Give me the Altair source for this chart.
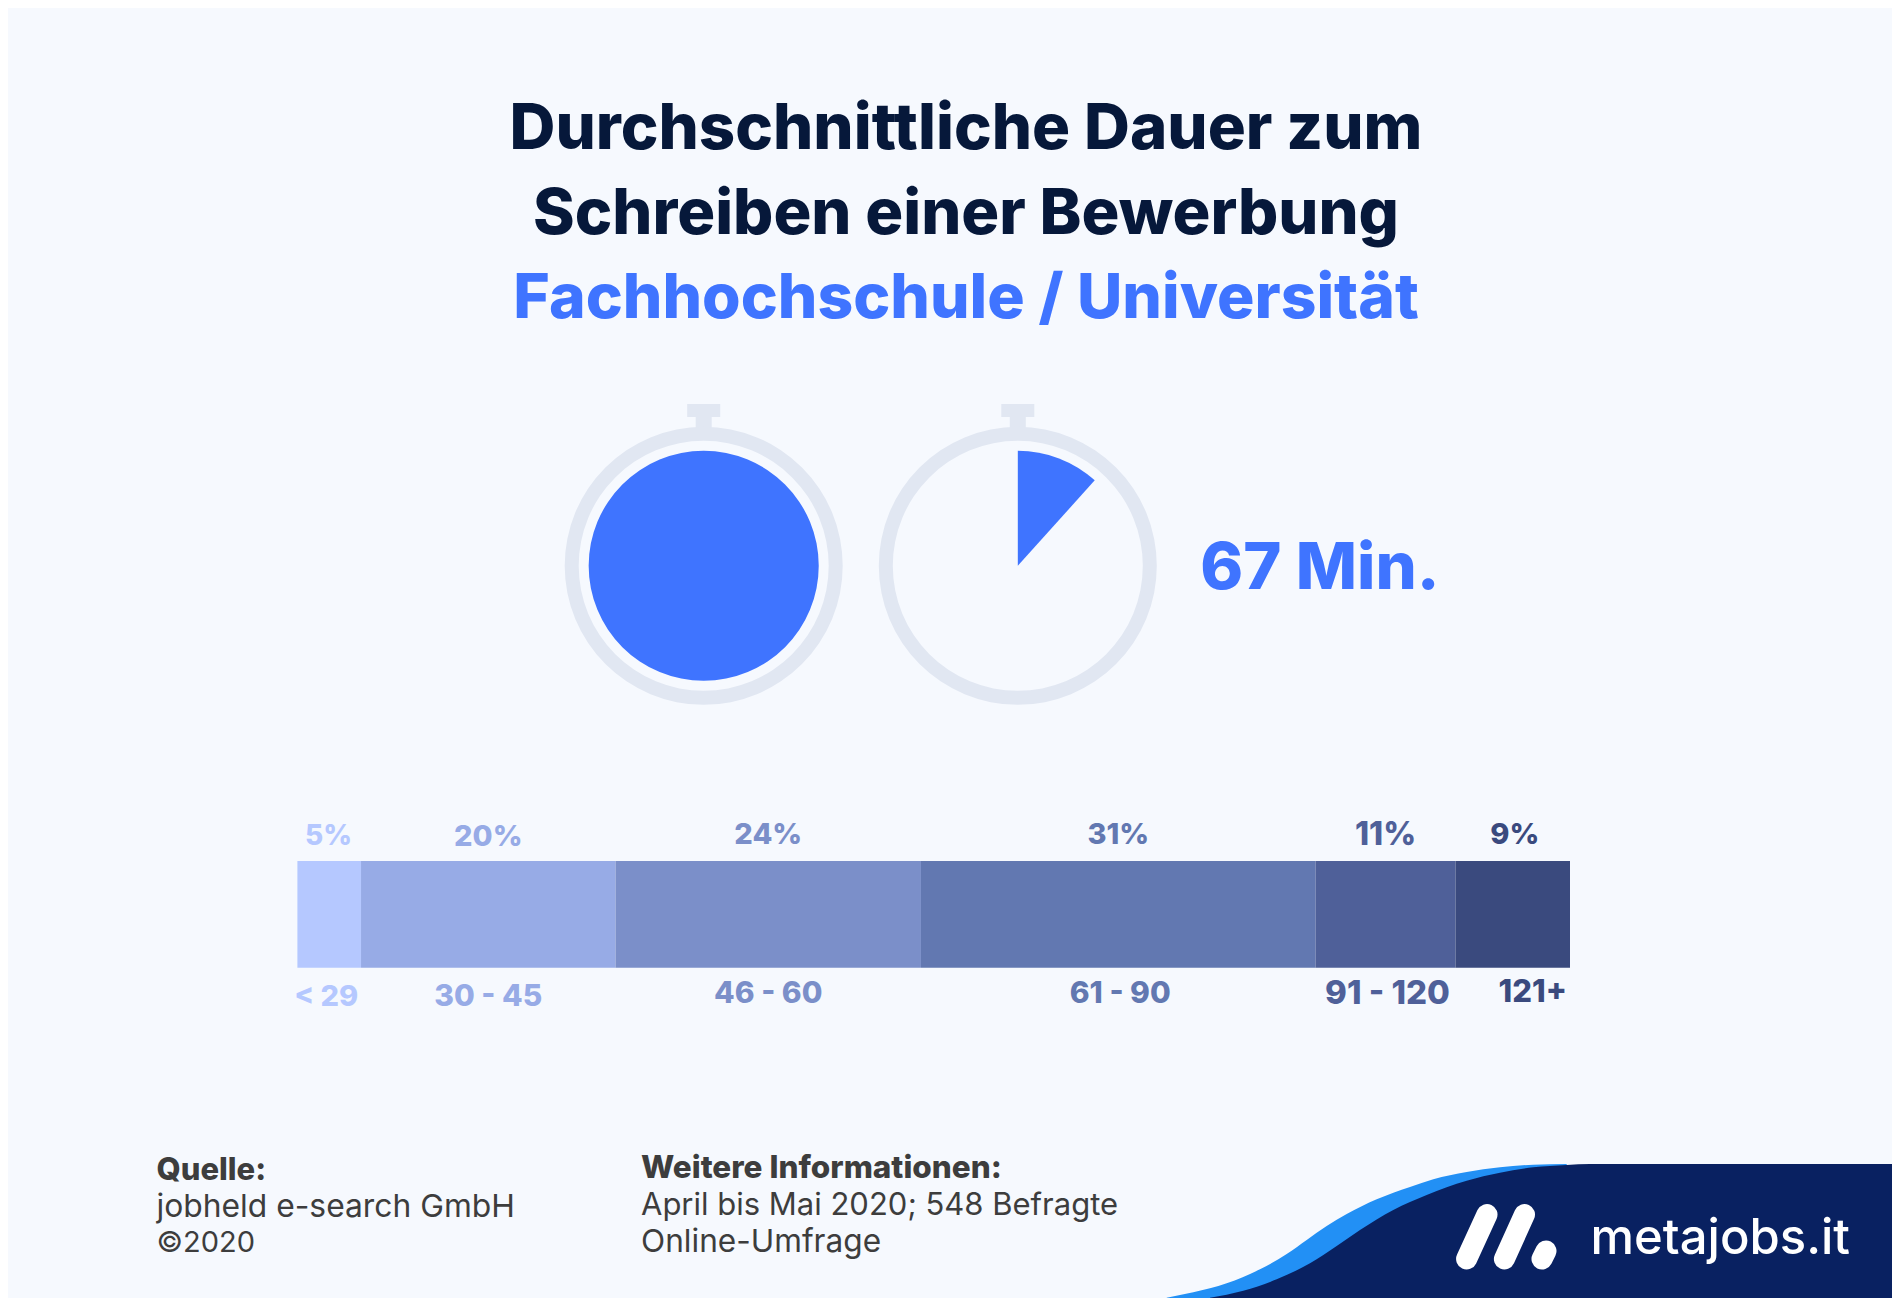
import altair as alt
import pandas as pd
import math

# ---- chart data ----
ranges = ["< 29", "30 - 45", "46 - 60", "61 - 90", "91 - 120", "121+"]
shares = [5, 20, 24, 31, 11, 9]
share_labels = ["5%", "20%", "24%", "31%", "11%", "9%"]
colors = ["#B5C8FF", "#97ABE6", "#7B8FC9", "#6278B1", "#4F6099", "#3A4A7E"]
watch_minutes = [60, 7]
watch_names = ["erste Stunde", "weitere Minuten"]

# ---- texts ----
title_lines = ["Durchschnittliche Dauer zum", "Schreiben einer Bewerbung"]
subtitle = "Fachhochschule / Universität"
avg_label = "67 Min."

BG = "#F6F9FE"; BLUE = "#3F74FF"; RING = "#E1E7F2"; NAVY = "#092161"; SKY = "#2290F5"
TITLE = "#06183A"; GREY = "#3D3D3D"
FONT = "Inter"

W, H = 1884, 1290
page_x = alt.Scale(domain=[8, 8 + W], range=[0, W])
page_y = alt.Scale(domain=[8, 8 + H], range=[0, H])
X = lambda f: alt.X(f, scale=page_x, axis=None)
Y = lambda f: alt.Y(f, scale=page_y, axis=None)

layers = []

def text(s, x, y, size, weight, color, align="center", font=FONT):
    layers.append(
        alt.Chart(pd.DataFrame({"t": [s], "x": [x], "y": [y]}))
        .mark_text(fontSize=size, fontWeight=weight, color=color, align=align, baseline="middle", font=font)
        .encode(x=X("x:Q"), y=Y("y:Q"), text="t:N")
    )

# title block
text(title_lines[0], 966, 130, 63.5, 800, TITLE)
text(title_lines[1], 966, 215, 63.2, 800, TITLE)
text(subtitle, 966, 299, 62.4, 800, BLUE)

# stopwatches
centres = [703.7, 1017.8]
cy = 565.8
for cx, minutes, name in zip(centres, watch_minutes, watch_names):
    crown = pd.DataFrame({"x": [cx - 16.5, cx - 8], "x2": [cx + 16.5, cx + 8], "y": [404, 417], "y2": [417, 432]})
    layers.append(alt.Chart(crown).mark_rect(color=RING).encode(x=X("x:Q"), x2="x2:Q", y=Y("y:Q"), y2="y2:Q"))
    theta_scale = alt.Scale(domain=[0, 60], range=[0, 2 * math.pi])
    ring = pd.DataFrame({"a": [0], "b": [60], "x": [cx], "y": [cy]})
    layers.append(alt.Chart(ring).mark_arc(innerRadius=125, outerRadius=139, color=RING)
                  .encode(theta=alt.Theta("a:Q", scale=theta_scale), theta2="b:Q", x=X("x:Q"), y=Y("y:Q")))
    fill = pd.DataFrame({"a": [0], "b": [minutes], "x": [cx], "y": [cy], "n": [name]})
    layers.append(alt.Chart(fill).mark_arc(innerRadius=0, outerRadius=115, color=BLUE)
                  .encode(theta=alt.Theta("a:Q", scale=theta_scale), theta2="b:Q", x=X("x:Q"), y=Y("y:Q")))

text(avg_label, 1320, 569, 65, 800, BLUE)

# stacked bar
start = [sum(shares[:i]) for i in range(len(shares))]
bar = pd.DataFrame({"r": ranges, "s": start, "e": [a + b for a, b in zip(start, shares)]})
pct = alt.Scale(domain=[0, 100], range=[289.4, 1562])
BAR_TOP, BAR_BOTTOM = 853, 959.7
color_scale = alt.Scale(domain=ranges, range=colors)
layers.append(
    alt.Chart(bar).mark_rect().encode(
        x=alt.X("s:Q", scale=pct, axis=None), x2="e:Q",
        y=alt.value(BAR_TOP), y2=alt.value(BAR_BOTTOM),
        color=alt.Color("r:N", scale=color_scale, legend=None),
    )
)
pct_dx = [-0.7, 0, 0, 0, 0, 2]
pct_y = [829, 829, 827, 827, 827, 827]
rng_dx = [-3, 0, 0, 2, 2, 20]
rng_y = [988.5, 989, 986, 986, 986, 985]
pct_size = [28, 29, 29, 29, 32, 29]
rng_size = [29, 30, 30, 30, 33, 31]
for i, r in enumerate(ranges):
    mid = start[i] + shares[i] / 2
    d = pd.DataFrame({"m": [mid], "p": [share_labels[i]], "r": [r]})
    layers.append(alt.Chart(d).mark_text(fontSize=pct_size[i], fontWeight=800, font=FONT, dx=pct_dx[i], color=colors[i], baseline="middle")
                  .encode(x=alt.X("m:Q", scale=pct, axis=None), y=alt.value(pct_y[i]), text="p:N"))
    layers.append(alt.Chart(d).mark_text(fontSize=rng_size[i], fontWeight=800, font=FONT, dx=rng_dx[i], color=colors[i], baseline="middle")
                  .encode(x=alt.X("m:Q", scale=pct, axis=None), y=alt.value(rng_y[i]), text="r:N"))

# footer
text("Quelle:", 156.5, 1171, 31, 800, GREY, "left")
text("jobheld e-search GmbH", 156.5, 1207, 31.8, 400, GREY, "left")
text("©2020", 156.5, 1242.5, 29, 400, GREY, "left")
text("Weitere Informationen:", 641, 1169, 31.5, 800, GREY, "left")
text("April bis Mai 2020; 548 Befragte", 641, 1206, 31, 400, GREY, "left")
text("Online-Umfrage", 641, 1242.5, 31.6, 400, GREY, "left")

# brand wave
light_x = [1166.7, 1193.3, 1226.7, 1260, 1286.7, 1306.7, 1326.7, 1346.7, 1376.7, 1410, 1433.3, 1466.7, 1500, 1533.3, 1566.7]
light_y = [1297.7, 1292.3, 1283.3, 1269.3, 1254, 1240, 1226, 1214, 1199.3, 1187, 1179.3, 1172, 1167.3, 1164.7, 1164]
navy_x = [1210, 1243.3, 1276.7, 1310, 1336.7, 1360, 1393.3, 1426.7, 1466.7, 1500, 1533.3, 1566.7, 1590, 1892]
navy_y = [1297.7, 1290.7, 1279.3, 1263.3, 1246, 1230, 1210, 1195, 1180.7, 1172.7, 1167.3, 1165, 1164, 1164]
for xs, ys, col in [(light_x, light_y, SKY), (navy_x, navy_y, NAVY)]:
    d = pd.DataFrame({"x": xs, "y": ys, "b": [1302] * len(xs)})
    layers.append(alt.Chart(d).mark_area(color=col, interpolate="monotone").encode(x=X("x:Q"), y=Y("y:Q"), y2="b:Q"))
rule = pd.DataFrame({"x": [8], "x2": [1892], "y": [1298], "y2": [1302]})
layers.append(alt.Chart(rule).mark_rect(color=NAVY).encode(x=X("x:Q"), x2="x2:Q", y=Y("y:Q"), y2="y2:Q"))

# logo
strokes = [((1487, 1214.5), (1466.6, 1259)), ((1524.5, 1214.5), (1504.4, 1259)), ((1546, 1251), (1542, 1259))]
for k, (a, b) in enumerate(strokes):
    d = pd.DataFrame({"x": [a[0], b[0]], "y": [a[1], b[1]]})
    layers.append(alt.Chart(d).mark_line(color="white", strokeWidth=21, strokeCap="round").encode(
        x=X("x:Q"), y=Y("y:Q"), order="y:Q"))
text("metajobs.it", 1590.5, 1238.5, 49, 500, "white", "left")

chart = (
    alt.layer(*layers)
    .resolve_scale(x="independent", y="independent", theta="independent", color="independent")
    .properties(width=W, height=H, background=BG, padding=0, autosize=alt.AutoSizeParams(type="none"))
    .configure_view(strokeWidth=0)
)
chart.save("out.html", embed_options={"renderer": "svg", "actions": False})
